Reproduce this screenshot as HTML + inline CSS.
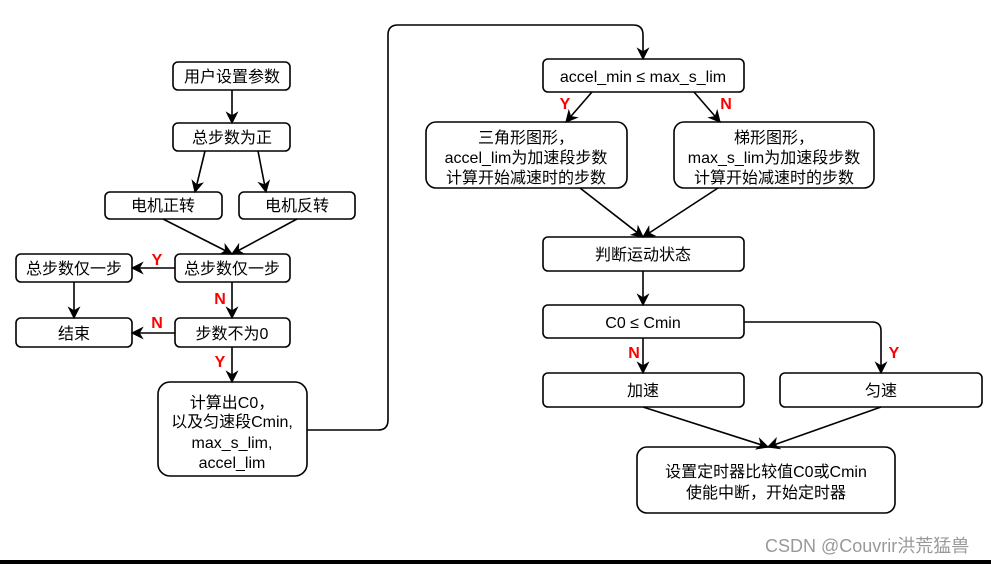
<!DOCTYPE html>
<html><head><meta charset="utf-8"><style>
html,body{margin:0;padding:0;background:#fff;}
svg text{font-family:"Liberation Sans","Noto Sans CJK SC",sans-serif;font-size:16px;fill:#000;}
.l{fill:red;font-weight:bold;font-size:16px;}
</style></head><body>
<svg width="991" height="564" viewBox="0 0 991 564" xmlns="http://www.w3.org/2000/svg">
<defs><marker id="a" viewBox="0 0 10 10" refX="9" refY="5" markerWidth="13" markerHeight="13" orient="auto" markerUnits="userSpaceOnUse"><path d="M0,0 L10,5 L0,10 L3,5 Z" fill="#000"/></marker></defs>
<g fill="#fff" stroke="#000" stroke-width="1.6">
<rect x="173" y="62" width="117" height="28" rx="5"/>
<rect x="173" y="123" width="117" height="28" rx="5"/>
<rect x="105" y="192" width="117" height="27" rx="5"/>
<rect x="239" y="192" width="116" height="27" rx="5"/>
<rect x="175" y="254" width="115" height="28" rx="5"/>
<rect x="16" y="254" width="116" height="28" rx="5"/>
<rect x="16" y="318" width="116" height="29" rx="5"/>
<rect x="175" y="318" width="115" height="29" rx="5"/>
<rect x="158" y="382" width="149" height="94" rx="12"/>
<rect x="543" y="59" width="201" height="33" rx="5"/>
<rect x="426" y="122" width="201" height="66" rx="10"/>
<rect x="674" y="122" width="200" height="66" rx="10"/>
<rect x="543" y="237" width="201" height="34" rx="5"/>
<rect x="543" y="305" width="201" height="33" rx="5"/>
<rect x="543" y="373" width="201" height="34" rx="5"/>
<rect x="780" y="373" width="202" height="34" rx="5"/>
<rect x="637" y="447" width="258" height="66" rx="10"/>
</g>
<g stroke="#000" stroke-width="1.6" fill="none" marker-end="url(#a)">
<path d="M232,90 V123"/>
<path d="M205,151 L195,192"/>
<path d="M258,151 L266,192"/>
<path d="M163,219 L232,254"/>
<path d="M297,219 L232,254"/>
<path d="M175,268 H132"/>
<path d="M74,282 V318"/>
<path d="M232,282 V318"/>
<path d="M175,333 H132"/>
<path d="M232,347 V382"/>
<path d="M307,430 H378 Q388,430 388,420 V35 Q388,25 398,25 H633 Q643,25 643,35 V59"/>
<path d="M592,92 L566,122"/>
<path d="M694,92 L720,122"/>
<path d="M580,188 L643,237"/>
<path d="M718,188 L643,237"/>
<path d="M643,271 V305"/>
<path d="M643,338 V373"/>
<path d="M744,322 H872 Q881,322 881,331 V373"/>
<path d="M643,407 L768,447"/>
<path d="M881,407 L768,447"/>
</g>
<g text-anchor="middle">
<text x="232" y="82">用户设置参数</text>
<text x="232" y="143">总步数为正</text>
<text x="163" y="211">电机正转</text>
<text x="297" y="211">电机反转</text>
<text x="232" y="274">总步数仅一步</text>
<text x="74" y="274">总步数仅一步</text>
<text x="74" y="339">结束</text>
<text x="232" y="339">步数不为0</text>
<text x="232" y="408">计算出C0，</text>
<text x="232" y="427">以及匀速段Cmin,</text>
<text x="232" y="448">max_s_lim,</text>
<text x="232" y="468">accel_lim</text>
<text x="643" y="82">accel_min ≤ max_s_lim</text>
<text x="526" y="143">三角形图形，</text>
<text x="526" y="163">accel_lim为加速段步数</text>
<text x="526" y="183">计算开始减速时的步数</text>
<text x="774" y="143">梯形图形，</text>
<text x="774" y="163">max_s_lim为加速段步数</text>
<text x="774" y="183">计算开始减速时的步数</text>
<text x="643" y="260">判断运动状态</text>
<text x="643" y="328">C0 ≤ Cmin</text>
<text x="643" y="396">加速</text>
<text x="881" y="396">匀速</text>
<text x="766" y="477">设置定时器比较值C0或Cmin</text>
<text x="766" y="498">使能中断，开始定时器</text>
<text class="l" x="157" y="265">Y</text>
<text class="l" x="220" y="304">N</text>
<text class="l" x="157" y="328">N</text>
<text class="l" x="220" y="367">Y</text>
<text class="l" x="565" y="109">Y</text>
<text class="l" x="726" y="109">N</text>
<text class="l" x="634" y="358">N</text>
<text class="l" x="894" y="358">Y</text>
</g>
<text x="765" y="552" style="fill:#999;font-size:18px">CSDN @Couvrir洪荒猛兽</text>
<rect x="0" y="560" width="991" height="4" fill="#000"/>
</svg>
</body></html>
